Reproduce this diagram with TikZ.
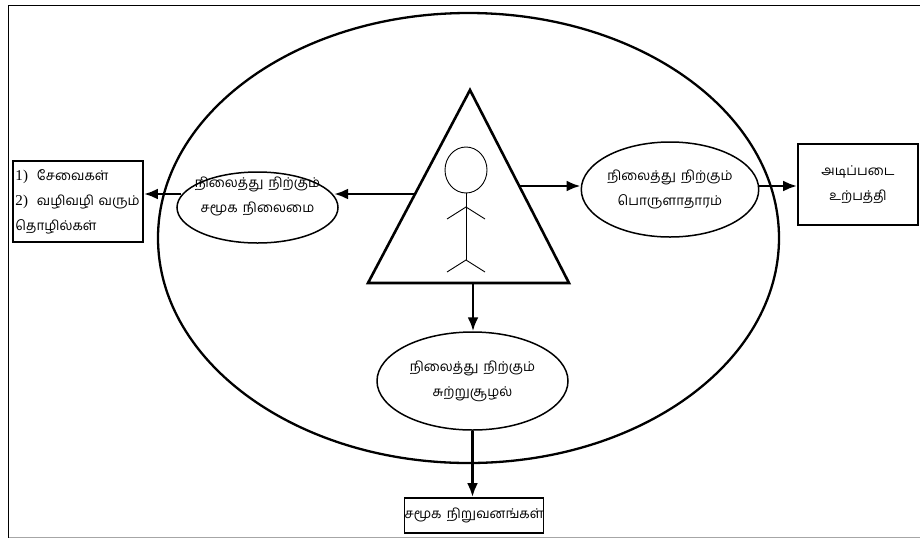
\documentclass[tikz,border=0pt]{standalone}
\usepackage{fontspec}
\setmainfont{Liberation Serif}
\newfontfamily\tamil[Script=Tamil,WordSpace=1.6]{Hind Madurai}
\usetikzlibrary{shapes.geometric,arrows.meta}
\begin{document}
\begin{tikzpicture}[x=1pt,y=-1pt,
  txt/.style={font=\tamil\fontsize{13.5}{25}\selectfont, align=center},
  oval/.style={ellipse, draw, line width=1.5pt, inner sep=0pt},
  boxnode/.style={draw, line width=1.8pt, inner sep=0pt},
  arr/.style={line width=2.7pt, -{Latex[length=14pt,width=11pt]}},
  thin line/.style={line width=0.9pt}]
\useasboundingbox (0,0) rectangle (920,539);
% frame
\draw[line width=1.8pt] (920,5.5) -- (8.5,5.5) -- (8.5,538);
\draw[gray!70, line width=1pt] (8.5,537.5) -- (920,537.5);
% big ellipse
\draw[line width=2.3pt] (468.5,238) ellipse [x radius=310.5pt, y radius=225pt];
% triangle
\coordinate (A) at (470,90);
\coordinate (BL) at (368,283);
\coordinate (BR) at (569,283);
\draw[line width=2.6pt, line join=miter] (A) -- (BL) -- (BR) -- cycle;
% stick figure
\draw[thin line] (466,170) ellipse [x radius=21pt, y radius=23pt];
\draw[thin line] (466,193) -- (466,260);
\draw[thin line] (447,219) -- (466,207) -- (485,219);
\draw[thin line] (447,272) -- (466,260) -- (485,272);
% side points of triangle
\coordinate (L) at (415,194);
\coordinate (R) at (519,186);
\coordinate (B) at (473,283);
% ellipses
\node[oval, minimum width=161pt, minimum height=71pt,
  label={[txt, yshift=11pt]center:நிலைத்து நிற்கும்\\சமூக நிலைமை}] (lell) at (257.5,207.5) {};
\node[oval, minimum width=166pt, minimum height=95pt, txt] (rell) at (670,189.5)
  {நிலைத்து நிற்கும்\\பொருளாதாரம்};
\node[oval, minimum width=191pt, minimum height=98pt, txt] (bell) at (472.5,381)
  {நிலைத்து நிற்கும்\\சுற்றுசூழல்};
% boxes
\node[boxnode, minimum width=130pt, minimum height=81pt, text width=125pt,
  font=\tamil\fontsize{13.5}{25}\selectfont, align=left] (lbox) at (78,201.5)
  {\rmfamily\fontsize{15}{25}\selectfont 1)~ \tamil\fontsize{13.5}{25}\selectfont சேவைகள்\\\rmfamily\fontsize{15}{25}\selectfont 2)~ \tamil\fontsize{13.5}{25}\selectfont வழிவழி வரும்\\தொழில்கள்};
\node[boxnode, minimum width=120pt, minimum height=81pt, txt] (rbox) at (858,184.5)
  {அடிப்படை\\உற்பத்தி};
\node[boxnode, minimum width=128pt, minimum height=35pt, txt] (bbox) at (474,515.5)
  {சமூக நிறுவனங்கள்};
% arrows
\draw[arr] (L) -- (L -| lell.9);
\draw[arr] (L -| lell.171) -- (L -| lbox.east);
\draw[arr] (R) -- (R -| rell.west);
\draw[arr] (R -| rell.east) -- (R -| rbox.west);
\draw[arr] (B) -- (B |- bell.north);
\draw[arr] (bell.south) -- (bell.south |- bbox.north);
\end{tikzpicture}
\end{document}
